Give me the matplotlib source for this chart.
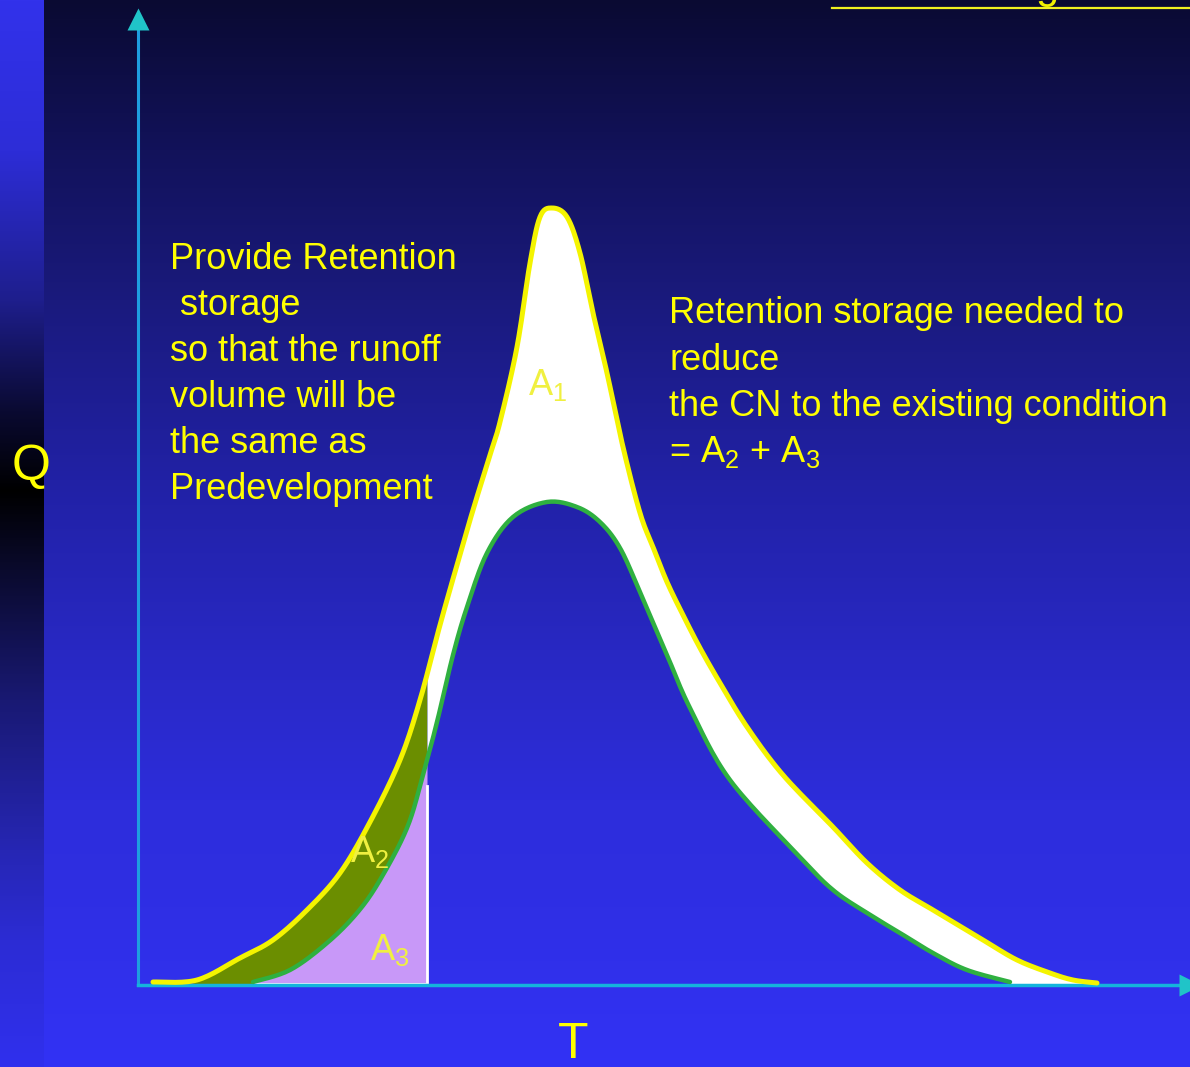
import matplotlib
matplotlib.use("Agg")
import matplotlib.pyplot as plt
import numpy as np

plt.rcParams['font.family'] = ['Liberation Sans', 'DejaVu Sans']
plt.rcParams['mathtext.fontset'] = 'custom'
plt.rcParams['mathtext.rm'] = 'Liberation Sans'
plt.rcParams['mathtext.it'] = 'Liberation Sans'

# post-development hydrograph (yellow), T vs Q
post_t = [15, 59, 102, 135, 169, 202, 232, 262, 282, 302, 319, 335, 352, 362, 379, 392,
          402, 414, 429, 442, 455, 469, 485, 502, 515, 529, 545, 562, 582, 609, 645,
          695, 729, 762, 795, 845, 879, 912, 935, 959]
post_q = [3, 5, 27, 45, 75, 112, 163, 225, 285, 360, 420, 475, 530, 563, 638, 722,
          768, 777, 768, 732, 672, 612, 538, 472, 438, 403, 370, 337, 302, 258, 210,
          158, 122, 95, 75, 45, 25, 12, 5, 2]

# pre-development hydrograph (green)
pre_t = [115, 152, 189, 219, 242, 269, 285, 299, 315, 329, 349, 375, 409, 439, 462, 482,
         502, 529, 552, 592, 662, 695, 729, 762, 795, 829, 872]
pre_q = [3, 15, 42, 72, 105, 157, 210, 263, 330, 378, 432, 468, 483, 478, 463, 437,
         393, 330, 277, 205, 128, 95, 72, 52, 32, 15, 3]

t_cut = 289      # end of retention shading
t_a2_start = 55  # where A2 shading begins

left_lines = ["Provide Retention", " storage", "so that the runoff", "volume will be",
              "the same as", "Predevelopment"]
right_lines = ["Retention storage needed to", "reduce", "the CN to the existing condition",
               "= A$_2$ + A$_3$"]

W, H = 1190, 1067
X0, Y0 = 138, 985  # origin in pixels


def smooth_line(t, q, n=16):
    # catmull-rom through the read points, only for a smooth stroke
    p = np.column_stack([t, q]).astype(float)
    p = np.vstack([p[0], p, p[-1]])
    out = []
    s = np.linspace(0, 1, n, endpoint=False)[:, None]
    for i in range(1, len(p) - 2):
        p0, p1, p2, p3 = p[i - 1], p[i], p[i + 1], p[i + 2]
        seg = 0.5 * ((2 * p1) + (-p0 + p2) * s + (2 * p0 - 5 * p1 + 4 * p2 - p3) * s ** 2
                     + (-p0 + 3 * p1 - 3 * p2 + p3) * s ** 3)
        out.append(seg)
    out.append(p[-2][None, :])
    out = np.vstack(out)
    return out[:, 0], out[:, 1]


fig = plt.figure(figsize=(W / 100, H / 100), dpi=100)
ax = fig.add_axes([0, 0, 1, 1])
ax.set_xlim(-X0, W - X0)
ax.set_ylim(Y0 - H, Y0)
ax.axis('off')

# background gradient
yy = np.arange(H)
stops_y = [0, 150, 300, 480, 650, 800, 1067]
stops_c = np.array([[10, 10, 50], [18, 18, 90], [26, 26, 125], [33, 33, 165],
                    [40, 40, 195], [45, 45, 218], [50, 50, 245]]) / 255
bg = np.stack([np.interp(yy, stops_y, stops_c[:, k]) for k in range(3)], axis=1)
ax.imshow(bg[:, None, :], extent=[-X0, W - X0, Y0 - H, Y0], aspect='auto', zorder=0)

sy = [0, 150, 300, 410, 490, 570, 700, 850, 940, 1067]
sc = np.array([[50, 50, 235], [45, 45, 215], [30, 30, 140], [10, 10, 50], [0, 0, 0],
               [10, 10, 45], [25, 25, 115], [38, 38, 180], [44, 44, 212], [48, 48, 238]]) / 255
strip = np.stack([np.interp(yy, sy, sc[:, k]) for k in range(3)], axis=1)
ax.imshow(strip[:, None, :], extent=[-X0, -X0 + 44, Y0 - H, Y0], aspect='auto', zorder=0.5)

yt, yq = smooth_line(post_t, post_q)
gt, gq = smooth_line(pre_t, pre_q)

# fills between hydrographs
g1 = np.linspace(t_a2_start, t_cut, 300)
g2 = np.linspace(t_cut, post_t[-1], 600)
ax.fill_between(g1, np.interp(g1, gt, gq, left=0, right=0),
                np.interp(g1, yt, yq, left=0, right=0), color='#6b8e00', lw=0, zorder=2)
ax.fill_between(g2, np.interp(g2, gt, gq, left=0, right=0),
                np.interp(g2, yt, yq, left=0, right=0), color='white', lw=0, zorder=2)
g3 = np.linspace(pre_t[0], t_cut, 300)
ax.fill_between(g3, 0, np.interp(g3, gt, gq), color='#c898f8', lw=0, zorder=2)
ax.plot([pre_t[0], t_cut, t_cut], [1, 1, np.interp(t_cut, gt, gq) - 25],
        color='white', lw=2, zorder=3)

# axes with arrows
ax.plot([0, 0], [0, 960], color='#1e9ee0', lw=2.2, zorder=3)
ax.plot([0, 1046], [0, 0], color='#14b4dc', lw=2.5, zorder=3)
ax.plot([0], [966], marker='^', ms=16, color='#20c4c8', mec='none', zorder=3)
ax.plot([1052], [0], marker='>', ms=16, color='#20c4c8', mec='none', zorder=3)

# hydrographs
ax.plot(yt, yq, color='#f4f400', lw=3.6, solid_capstyle='round', zorder=4)
ax.plot(gt, gq, color='#2fb040', lw=3.2, solid_capstyle='round', zorder=4)

# title remnant at top right
ax.plot([694, W - X0], [977, 977], color='#f0f020', lw=1.6, zorder=3)
ax.text(897, 987, "g", color='#f0f000', fontsize=30, va='baseline', ha='left', zorder=3,
        clip_on=True)

yel = '#ffff00'
for i, s in enumerate(left_lines):
    ax.text(170 - X0, Y0 - (269 + 46 * i), s, color=yel, fontsize=26, va='baseline', zorder=5)
for i, s in enumerate(right_lines):
    ax.text(669 - X0, Y0 - (323 + 46.5 * i), s, color=yel, fontsize=26, va='baseline', zorder=5)

ax.text(31 - X0, Y0 - 467, "Q", color=yel, fontsize=36, ha='center', va='center', zorder=5)
ax.text(573 - X0, Y0 - 1045, "T", color=yel, fontsize=36, ha='center', va='center', zorder=5)

lab = '#f0f040'
ax.text(390, 590, "A$_1$", color=lab, fontsize=26, va='baseline', zorder=5)
ax.text(212, 123, "A$_2$", color=lab, fontsize=26, va='baseline', zorder=5)
ax.text(232, 25, "A$_3$", color=lab, fontsize=26, va='baseline', zorder=5)

fig.savefig("out.png", dpi=100)
